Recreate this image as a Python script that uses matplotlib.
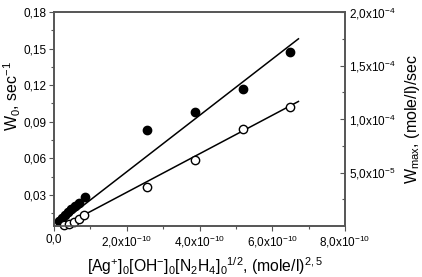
import numpy as np
import matplotlib
matplotlib.use('Agg')
import matplotlib.pyplot as plt
from matplotlib.ticker import FuncFormatter

plt.rcParams['font.family'] = ['Liberation Sans', 'DejaVu Sans']
plt.rcParams['mathtext.fontset'] = 'custom'
plt.rcParams['mathtext.rm'] = 'Liberation Sans'
plt.rcParams['mathtext.it'] = 'Liberation Sans'

# filled circles, W0 (left axis)
x_w0 = [0.14e-10, 0.22e-10, 0.30e-10, 0.39e-10, 0.47e-10, 0.58e-10, 0.69e-10, 0.857e-10,
        2.57e-10, 3.87e-10, 5.20e-10, 6.50e-10]
w0   = [0.0087, 0.0111, 0.0136, 0.016, 0.0185, 0.021, 0.0234, 0.0284,
        0.0834, 0.0976, 0.1168, 0.1474]

# open circles, Wmax (right axis)
x_wm = [0.28e-10, 0.41e-10, 0.55e-10, 0.69e-10, 0.83e-10,
        2.57e-10, 3.87e-10, 5.20e-10, 6.50e-10]
wmax = [0.9e-6, 2.3e-6, 4.2e-6, 6.6e-6, 10.3e-6,
        3.66e-5, 6.13e-5, 9.08e-5, 1.115e-4]

# linear fits (end points)
fit_x0 = [0.14e-10, 6.72e-10]
fit_w0 = [0.0060, 0.158]
fit_xm = [0.25e-10, 6.72e-10]
fit_wm = [0.0, 1.164e-4]

xticks  = [0, 2e-10, 4e-10, 6e-10, 8e-10]
y1ticks = [0.03, 0.06, 0.09, 0.12, 0.15, 0.18]
y2ticks = [5e-5, 1e-4, 1.5e-4, 2e-4]

spine_c = '#555555'

fig = plt.figure(figsize=(4.22, 2.77), dpi=100)
ax1 = fig.add_axes([54/422, 1-226/277, (345-54)/422, (226-12)/277])
ax2 = ax1.twinx()

ax1.plot(fit_x0, fit_w0, 'k-', lw=1.1)
ax1.plot(x_w0, w0, 'o', color='k', ms=6, clip_on=False)
ax2.plot(fit_xm, fit_wm, 'k-', lw=1.1)
ax2.plot(x_wm, wmax, 'o', mfc='white', mec='k', mew=1.0, ms=6, clip_on=False)

ax1.set_xlim(0, 8e-10)
ax1.set_ylim(0.0045, 0.18)
ax2.set_ylim(0, 2e-4)


def frm_x(v, pos):
    if abs(v) < 1e-14:
        return '0,0'
    m = v / 1e-10
    return ('%.1f' % m).replace('.', ',') + r'x10$^{\mathregular{-10}}$'


def frm_y1(v, pos):
    return ('%.2f' % v).replace('.', ',')


def frm_y2(v, pos):
    e = int(np.floor(np.log10(v) + 1e-9))
    m = v / 10**e
    return ('%.1f' % m).replace('.', ',') + r'x10$^{\mathregular{%d}}$' % e


ax1.set_xticks(xticks)
ax1.set_xticks([1e-10, 3e-10, 5e-10, 7e-10], minor=True)
ax1.xaxis.set_major_formatter(FuncFormatter(frm_x))
ax1.set_yticks(y1ticks)
ax1.set_yticks([0.015, 0.045, 0.075, 0.105, 0.135, 0.165], minor=True)
ax1.yaxis.set_major_formatter(FuncFormatter(frm_y1))
ax2.set_yticks(y2ticks)
ax2.set_yticks([2.5e-5, 7.5e-5, 1.25e-4, 1.75e-4], minor=True)
ax2.yaxis.set_major_formatter(FuncFormatter(frm_y2))

ax1.tick_params(axis='both', which='major', direction='out', length=3.5, width=0.8,
                color=spine_c, labelsize=8.5, pad=2)
ax1.tick_params(axis='both', which='minor', direction='out', length=2, width=0.8, color=spine_c)
ax2.tick_params(axis='y', which='major', direction='in', length=3.5, width=0.8,
                color=spine_c, labelsize=8.5, pad=3)
ax2.tick_params(axis='y', which='minor', direction='in', length=2, width=0.8, color=spine_c)

for ax in (ax1, ax2):
    for s in ax.spines.values():
        s.set_color(spine_c)
        s.set_linewidth(1.2)

ax1.set_xlabel(r'[Ag$^{\mathregular{+}}$]$_{\mathregular{0}}$[OH$^{\mathregular{-}}$]$_{\mathregular{0}}$'
               r'[N$_{\mathregular{2}}$H$_{\mathregular{4}}$]$_{\mathregular{0}}$$^{\mathregular{1/2}}$'
               r', (mole/l)$^{\mathregular{2,5}}$', fontsize=11.3)
ax1.xaxis.set_label_coords(0.52, -0.135, transform=ax1.transAxes)
ax1.xaxis.label.set_va('top')
ax1.set_ylabel(r'W$_{\mathregular{0}}$, sec$^{\mathregular{-1}}$', fontsize=11.5)
ax1.yaxis.set_label_coords(-0.108, 0.607)
ax2.set_ylabel(r'W$_{\mathregular{max}}$, (mole/l)/sec', fontsize=11.5)
ax2.yaxis.set_label_coords(1.2, 0.5)

fig.savefig('out.png', dpi=100)
